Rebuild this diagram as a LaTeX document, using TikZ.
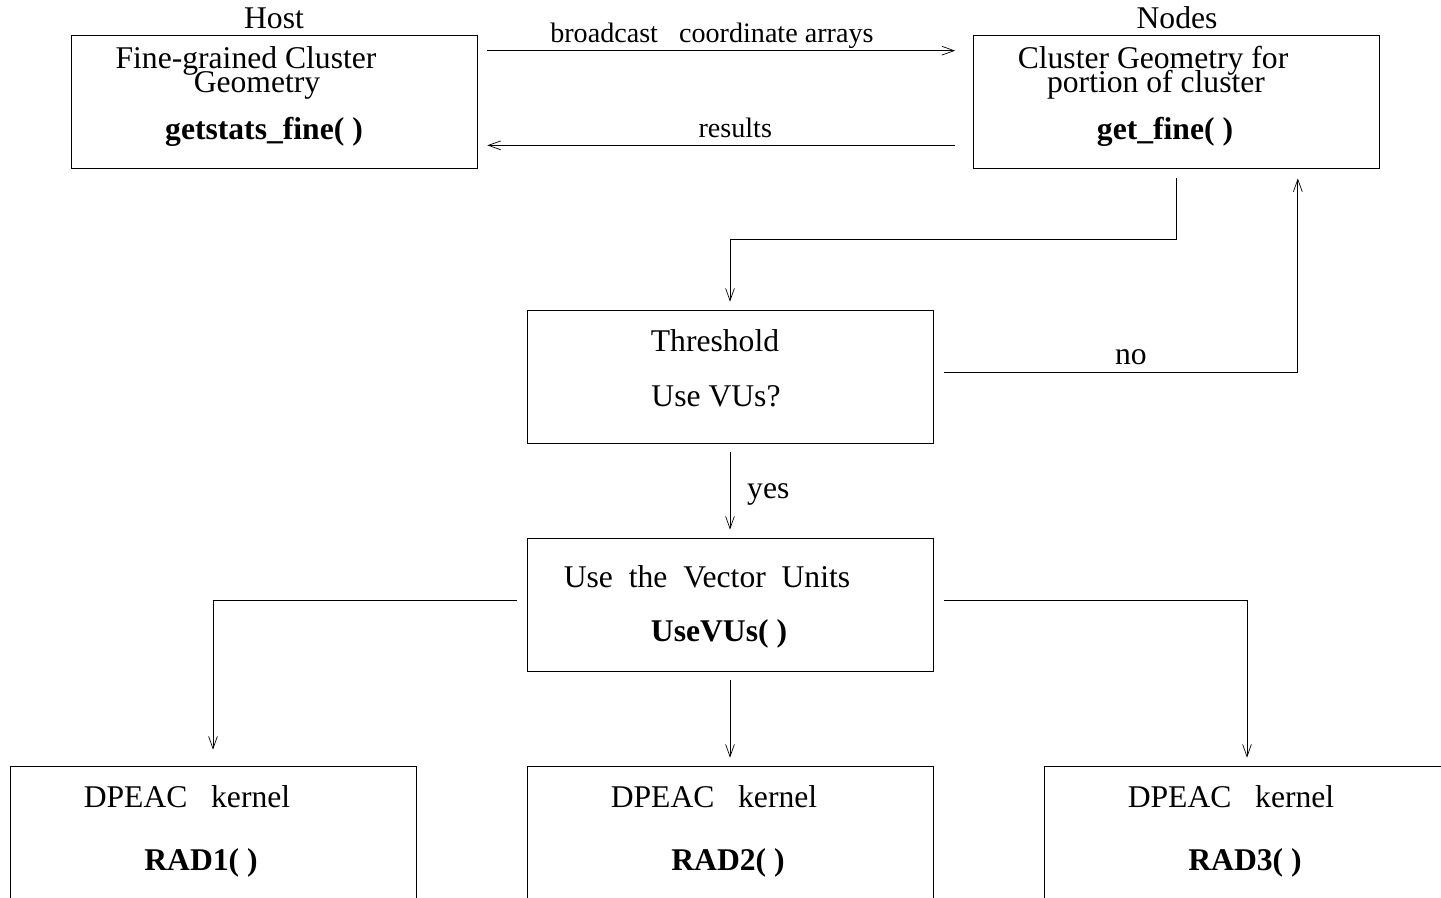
\documentclass[tikz,border=0pt]{standalone}
\usepackage{fontspec}
\setmainfont{Liberation Serif}
\usepackage{tikz}
\usetikzlibrary{calc,arrows.meta}
\tikzset{
    plain-box/.style = {draw, thin, rectangle, minimum width=8.12cm, minimum height=2.66cm, inner sep=0pt},
    box-text/.style = {anchor=base, inner sep=0pt, font=\fontsize{18}{20}\selectfont},
    box-title/.style = {box-text, font=\fontsize{18}{20}\selectfont\bfseries},
    arrow-label/.style = {anchor=base, inner sep=0pt, font=\fontsize{16}{18}\selectfont},
    flow-arrow/.style = {thin, -{Straight Barb[length=7pt,width=5pt]}},
}

\begin{document}
\begin{tikzpicture}[x=0.02cm, y=-0.02cm]
\clip (0,0) rectangle (1441,897);
\node [plain-box] (host) at (274,101.5) {};
\node [plain-box] (nodes) at (1176.5,101.5) {};
\node [plain-box] (threshold) at (730,376.5) {};
\node [plain-box] (usevus) at (730,604.5) {};
\node [plain-box] (rad1) at (213,832.5) {};
\node [plain-box] (rad2) at (730,832.5) {};
\node [plain-box] (rad3) at (1247,832.5) {};

\node [box-text] (host-title) at (274,28) {Host};
\node [box-text] (nodes-title) at (1177,28) {Nodes};

\node [box-text] (host-l1) at (246,68) {Fine-grained Cluster};
\node [box-text] (host-l2) at (257,92) {Geometry};
\node [box-title] (host-fn) at (264,139) {getstats\_fine( )};
\node [box-text] (nodes-l1) at (1153,68) {Cluster Geometry for};
\node [box-text] (nodes-l2) at (1156,92) {portion of cluster};
\node [box-title] (nodes-fn) at (1165,139) {get\_fine( )};
\node [box-text] (threshold-l1) at (715,351) {Threshold};
\node [box-text] (threshold-l2) at (716,406) {Use VUs?};
\node [box-text] (usevus-l1) at (707,587) {Use\ \ the\ \ Vector\ \ Units};
\node [box-title] (usevus-fn) at (719,641) {UseVUs( )};
\node [box-text] (rad1-l1) at (187,807) {DPEAC\ \ \ kernel};
\node [box-title] (rad1-fn) at (201,870) {RAD1( )};
\node [box-text] (rad2-l1) at (714,807) {DPEAC\ \ \ kernel};
\node [box-title] (rad2-fn) at (728,870) {RAD2( )};
\node [box-text] (rad3-l1) at (1231,807) {DPEAC\ \ \ kernel};
\node [box-title] (rad3-fn) at (1245,870) {RAD3( )};

\draw [flow-arrow] ($(host.north east)+(10,16)$) -- ($(nodes.north west)+(-18,16)$)
    node [arrow-label, pos=0.48, yshift=4.5pt] {broadcast\ \ \ coordinate arrays};
\draw [flow-arrow] ($(nodes.south west)+(-18,-23)$) -- ($(host.south east)+(10,-23)$)
    node [arrow-label, pos=0.47, yshift=4.5pt] {results};
\draw [flow-arrow] ($(nodes.south)+(0,10)$) -- ++(0,61) -| ($(threshold.north)+(0,-8)$);
\draw [flow-arrow] ($(threshold.east)+(11,-4.5)$) -| ($(nodes.south east)+(-82,10)$)
    node [box-text, pos=0.264, yshift=4pt] {no};
\draw [flow-arrow] ($(threshold.south)+(0,9)$) -- ($(usevus.north)+(0,-8)$)
    node [box-text, midway, anchor=base west, xshift=9.6pt, yshift=-4pt] {yes};
\draw [flow-arrow] ($(usevus.west)+(-10,-4.5)$) -| ($(rad1.north)+(0,-16)$);
\draw [flow-arrow] ($(usevus.south)+(0,9)$) -- ($(rad2.north)+(0,-8)$);
\draw [flow-arrow] ($(usevus.east)+(11,-4.5)$) -| ($(rad3.north)+(0,-8)$);
\end{tikzpicture}
\end{document}
